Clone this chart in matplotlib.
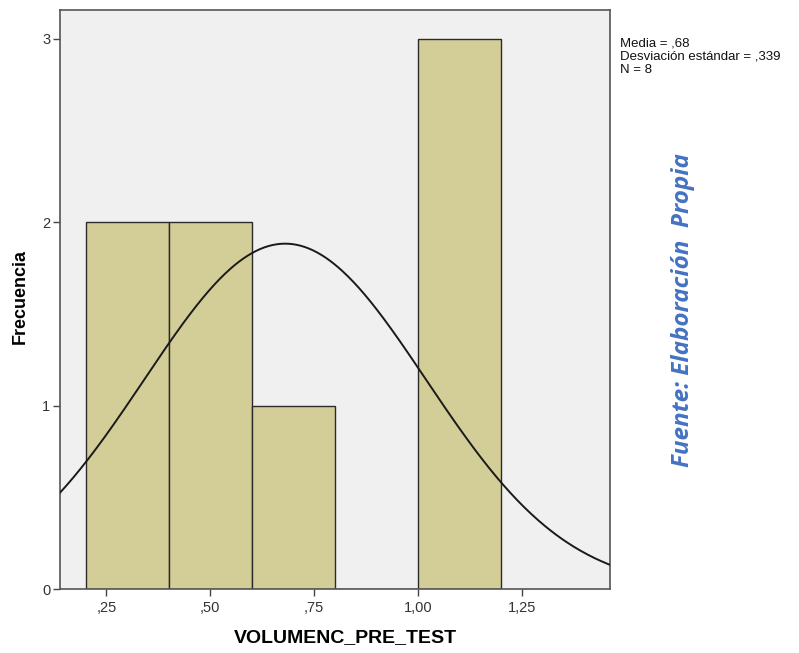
import numpy as np
import matplotlib
matplotlib.use("Agg")
import matplotlib.pyplot as plt

# --- datos del histograma ---
bin_edges = [0.2, 0.4, 0.6, 0.8, 1.0, 1.2]
counts = [2, 2, 1, 0, 3]
media = 0.68
desv = 0.339
n = 8
xticks = [0.25, 0.50, 0.75, 1.00, 1.25]
xtick_labels = [",25", ",50", ",75", "1,00", "1,25"]
yticks = [0, 1, 2, 3]

plt.rcParams["font.family"] = ["Liberation Sans", "DejaVu Sans"]

fig = plt.figure(figsize=(7.99, 6.53), dpi=100)
ax = fig.add_axes([0.075, 0.098, 0.688, 0.887])
ax.set_facecolor("#F0F0F0")

widths = np.diff(bin_edges)
ax.bar(bin_edges[:-1], counts, width=widths, align="edge",
       color="#D3CE98", edgecolor="#2b2b2b", linewidth=1.0, zorder=2)

# curva normal escalada
xmin, xmax = 0.138, 1.461
xs = np.linspace(xmin, xmax, 400)
bw = bin_edges[1] - bin_edges[0]
ys = n * bw / (desv * np.sqrt(2 * np.pi)) * np.exp(-0.5 * ((xs - media) / desv) ** 2)
ax.plot(xs, ys, color="#1a1a1a", linewidth=1.4, zorder=3)

ax.set_xlim(xmin, xmax)
ax.set_ylim(0, 3.158)
ax.set_xticks(xticks)
ax.set_xticklabels(xtick_labels)
ax.set_yticks(yticks)
ax.tick_params(axis="both", direction="out", length=5, width=1, color="#444444",
               labelsize=10.5, labelcolor="#333333")
ax.tick_params(axis="y", pad=2)
for s in ax.spines.values():
    s.set_color("#555555")
    s.set_linewidth(1.2)

fig.text(345 / 799, 1 - 638 / 653, "VOLUMENC_PRE_TEST", fontsize=14,
         fontweight="bold", ha="center", va="center")
fig.text(20 / 799, 1 - 296 / 653, "Frecuencia", fontsize=13, fontweight="bold",
         rotation=90, ha="center", va="center")

fig.text(0.776, 0.942, "Media = ,68\nDesviación estándar = ,339\nN = 8",
         fontsize=9.5, va="top", ha="left", linespacing=1.1, color="#111111")

fig.text(683 / 799, 1 - 310 / 653, "Fuente: Elaboración  Propia", rotation=90,
         family=["Open Sans", "DejaVu Sans"], fontsize=17.5, fontweight="bold",
         fontstyle="italic", color="#4472C4", ha="center", va="center")

fig.savefig("out.png", dpi=100)
